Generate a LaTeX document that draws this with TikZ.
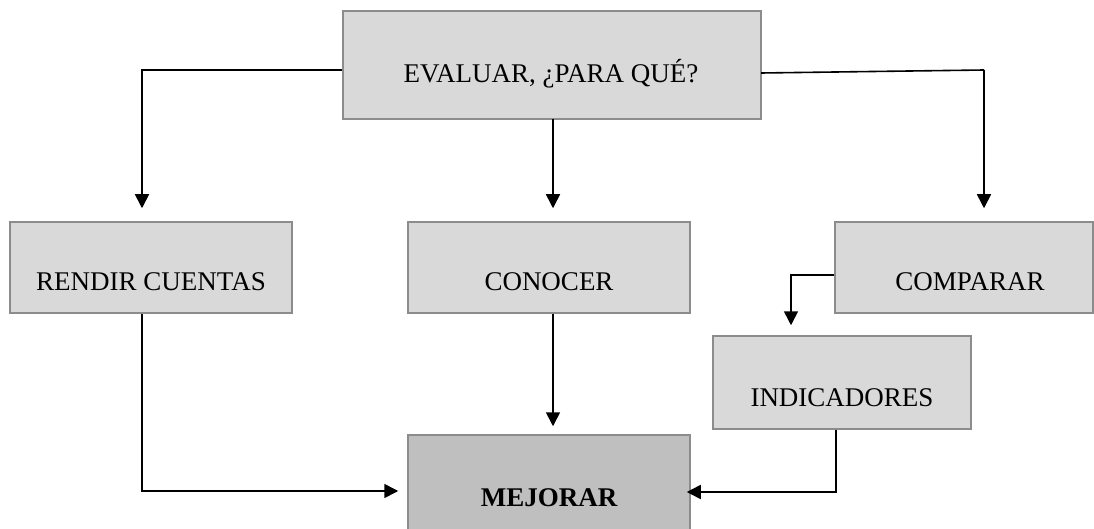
\documentclass[tikz,border=0pt]{standalone}
\usepackage{fontspec}
\setmainfont{Liberation Serif}
\usetikzlibrary{arrows.meta}
\definecolor{boxfill}{HTML}{D9D9D9}
\definecolor{darkfill}{HTML}{BFBFBF}
\definecolor{boxline}{HTML}{8C8C8C}
\tikzset{
  box/.style={draw=boxline, line width=1.5pt, fill=boxfill, rectangle, inner sep=0pt},
  darkbox/.style={box, fill=darkfill},
  lbl/.style={anchor=base, inner sep=0pt, font=\fontsize{27}{32}\selectfont},
  conn/.style={draw=black, line width=1.6pt, -{Triangle[length=14pt,width=14pt]}},
  plain/.style={draw=black, line width=1.6pt}
}
\begin{document}
\begin{tikzpicture}[x=1pt,y=-1pt]
\clip (0,0) rectangle (1094,529);
\fill[white] (0,0) rectangle (1094,529);
% boxes
\node[box, minimum width=418pt, minimum height=108pt] (top) at (552,65) {};
\node[box, minimum width=282pt, minimum height=91pt] (rendir) at (151,267.5) {};
\node[box, minimum width=282pt, minimum height=91pt] (conocer) at (549,267.5) {};
\node[box, minimum width=258pt, minimum height=91pt] (comparar) at (964,267.5) {};
\node[box, minimum width=258pt, minimum height=93pt] (indic) at (842,382.5) {};
\node[darkbox, minimum width=282pt, minimum height=100pt] (mejorar) at (549,485) {};
% labels
\node[lbl] (ttop) at (551,83) {EVALUAR, ¿PARA QUÉ?};
\node[lbl] (trendir) at (151,290) {RENDIR CUENTAS};
\node[lbl] (tconocer) at (549,290) {CONOCER};
\node[lbl] (tcomparar) at (970,290) {COMPARAR};
\node[lbl] (tindic) at (842,406) {INDICADORES};
\node[lbl] (tmejorar) at (549,506) {\bfseries MEJORAR};
% helper coordinates
\coordinate (c1) at (142,70);
\coordinate (c2) at (553,119);
\coordinate (c3a) at (761,73);
\coordinate (c3b) at (984,70);
\coordinate (c4) at (791,275);
\coordinate (c5) at (142,491);
\coordinate (c7) at (836,492);
% connectors
\draw[conn, shorten >=13pt] (top.west |- c1) -- (c1) -- (c1 |- rendir.north);
\draw[conn, shorten >=13pt] (c2) -- (c2 |- conocer.north);
\draw[plain] (c3a) -- (c3b);
\draw[conn, shorten >=13pt] (c3b) -- (c3b |- comparar.north);
\draw[conn, shorten >=10pt] (comparar.west |- c4) -- (c4) -- (c4 |- indic.north);
\draw[conn, shorten >=9pt] (c1 |- rendir.south) -- (c5) -- (mejorar.west |- c5);
\draw[conn, shorten >=8pt] (c2 |- conocer.south) -- (c2 |- mejorar.north);
\draw[conn, shorten >=-4pt] (c7 |- indic.south) -- (c7) -- (mejorar.east |- c7);
\end{tikzpicture}
\end{document}
